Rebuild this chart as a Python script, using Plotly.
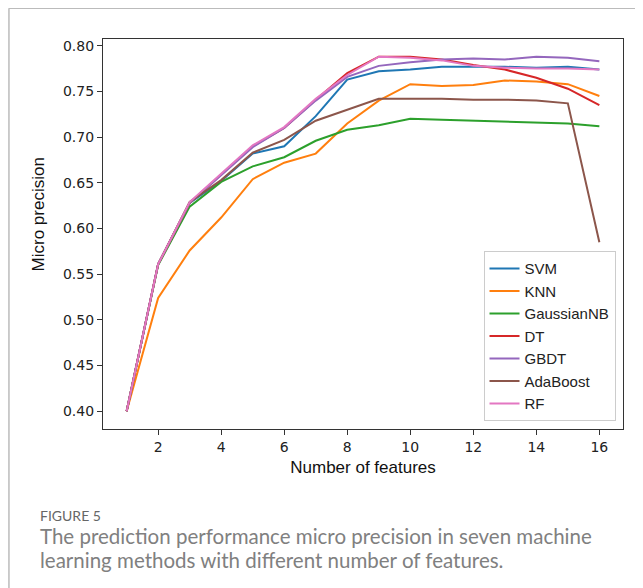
import plotly.graph_objects as go

features = list(range(1, 17))

svm = [0.400, 0.561, 0.628, 0.652, 0.682, 0.690, 0.723, 0.763, 0.772, 0.774, 0.777, 0.777, 0.777, 0.776, 0.777, 0.774]
knn = [0.400, 0.524, 0.576, 0.612, 0.654, 0.672, 0.682, 0.715, 0.740, 0.758, 0.756, 0.757, 0.762, 0.761, 0.758, 0.745]
gnb = [0.400, 0.560, 0.624, 0.651, 0.668, 0.678, 0.696, 0.708, 0.713, 0.720, 0.719, 0.718, 0.717, 0.716, 0.715, 0.712]
dt = [0.400, 0.561, 0.628, 0.659, 0.690, 0.710, 0.741, 0.770, 0.788, 0.788, 0.785, 0.779, 0.774, 0.765, 0.753, 0.735]
gbdt = [0.400, 0.561, 0.628, 0.659, 0.689, 0.710, 0.740, 0.766, 0.778, 0.782, 0.785, 0.786, 0.785, 0.788, 0.787, 0.783]
ada = [0.400, 0.561, 0.629, 0.653, 0.683, 0.697, 0.718, 0.730, 0.742, 0.742, 0.742, 0.741, 0.741, 0.740, 0.737, 0.585]
rf = [0.400, 0.561, 0.629, 0.660, 0.691, 0.711, 0.742, 0.768, 0.788, 0.787, 0.784, 0.778, 0.776, 0.775, 0.775, 0.774]

names = ["SVM", "KNN", "GaussianNB", "DT", "GBDT", "AdaBoost", "RF"]
series = [svm, knn, gnb, dt, gbdt, ada, rf]
colors = ["#1f77b4", "#ff7f0e", "#2ca02c", "#d62728", "#9467bd", "#8c564b", "#e377c2"]

x_ticks = [2, 4, 6, 8, 10, 12, 14, 16]
y_ticks = [0.40, 0.45, 0.50, 0.55, 0.60, 0.65, 0.70, 0.75, 0.80]

fig = go.Figure()
for name, vals, c in zip(names, series, colors):
    fig.add_trace(go.Scatter(x=features, y=vals, mode="lines", name=name,
                             line=dict(color=c, width=2)))

# page offset (browser body margin)
OFF = 8
W, H = 643 - OFF, 588 - OFF
L, R, T, B = 102.7 - OFF, 19.5, 39.2 - OFF, 159.3
pw, ph = W - L - R, H - T - B


def px(xp):
    return (xp - OFF - L) / pw


def py(yp):
    return (H - B - (yp - OFF)) / ph


fig.update_layout(
    width=W, height=H,
    margin=dict(l=L, r=R, t=T, b=B, pad=0, autoexpand=False),
    paper_bgcolor="white", plot_bgcolor="white",
    font=dict(family="DejaVu Sans", size=14, color="#222"),
    showlegend=True,
    legend=dict(x=px(616), y=py(421), xanchor="right", yanchor="bottom",
                bgcolor="rgba(255,255,255,0.9)", bordercolor="#cccccc", borderwidth=1,
                font=dict(family="Liberation Sans", size=15, color="#222"),
                itemwidth=30, tracegroupgap=0),
    xaxis=dict(range=[0.25, 16.75], tickvals=x_ticks, ticktext=[str(v) for v in x_ticks],
               automargin=False,
               showgrid=False, zeroline=False, showline=True, linecolor="#333", linewidth=1.2,
               mirror=True, ticks="outside", ticklen=5, tickcolor="#333",
               tickfont=dict(family="DejaVu Sans", size=14, color="#222"),
               title=dict(text="Number of features", standoff=7,
                          font=dict(family="Liberation Sans", size=17, color="#111"))),
    yaxis=dict(range=[0.3806, 0.8074], tickvals=y_ticks, ticktext=["%.2f" % v for v in y_ticks],
               automargin=False,
               showgrid=False, zeroline=False, showline=True, linecolor="#333", linewidth=1.2,
               mirror=True, ticks="outside", ticklen=5, tickcolor="#333",
               tickfont=dict(family="DejaVu Sans", size=14, color="#222")),
)

# y-axis title placed as in the reference
fig.add_annotation(text="Micro precision", xref="paper", yref="paper", x=px(38), y=py(214),
                   xanchor="center", yanchor="middle", textangle=-90, showarrow=False,
                   font=dict(family="Liberation Sans", size=17, color="#111"))

# outer frame lines (top and left)
fig.add_shape(type="line", xref="paper", yref="paper", x0=px(8.5), x1=px(643), y0=py(8.5), y1=py(8.5),
              line=dict(color="#bbbbbb", width=1.5))
fig.add_shape(type="line", xref="paper", yref="paper", x0=px(8.5), x1=px(8.5), y0=py(8.5), y1=py(588),
              line=dict(color="#bbbbbb", width=1.5))

fig.add_annotation(text="FIGURE 5", xref="paper", yref="paper", x=px(38), y=py(515),
                   xanchor="left", yanchor="middle", showarrow=False,
                   font=dict(family="Lato", size=14, color="#666"))
fig.add_annotation(text="The prediction performance micro precision in seven machine",
                   xref="paper", yref="paper", x=px(38), y=py(536),
                   xanchor="left", yanchor="middle", showarrow=False,
                   font=dict(family="Lato", size=20.5, color="#808080"))
fig.add_annotation(text="learning methods with different number of features.",
                   xref="paper", yref="paper", x=px(38), y=py(560),
                   xanchor="left", yanchor="middle", showarrow=False,
                   font=dict(family="Lato", size=20.5, color="#808080"))

fig.write_html("out.html")
